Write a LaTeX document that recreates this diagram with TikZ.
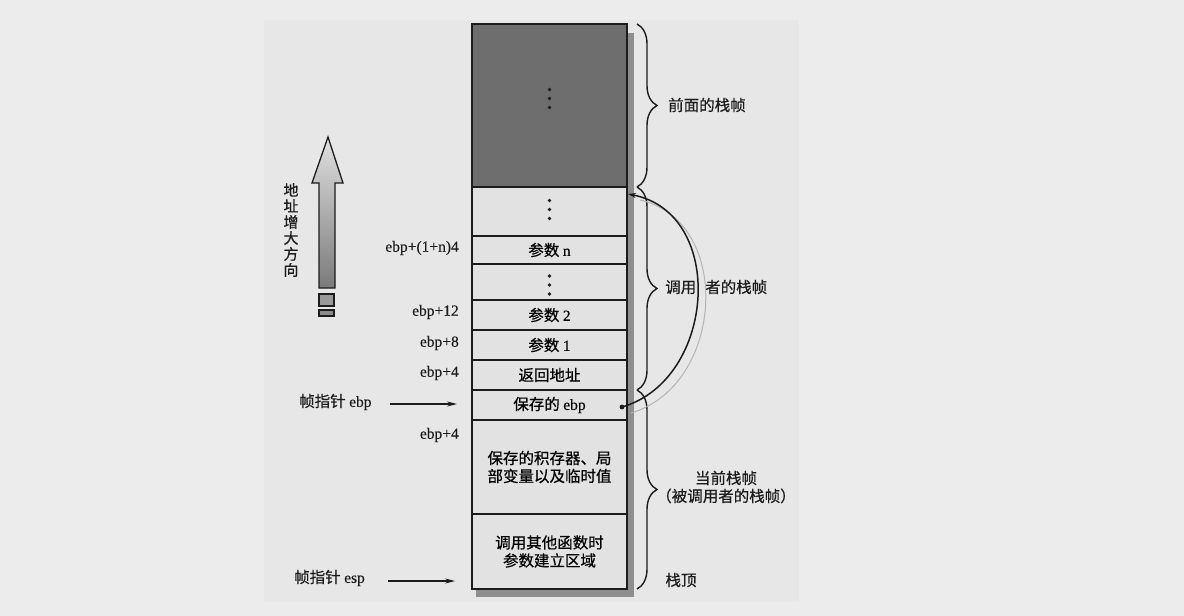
\documentclass[tikz,border=0pt]{standalone}
\usepackage{fontspec}
\setmainfont{Liberation Serif}[FakeBold=0.25]
\newfontfamily\cjk{Noto Sans CJK SC}[FakeBold=0.5]
\usetikzlibrary{decorations.pathreplacing,arrows.meta,calc}

\definecolor{pagebg}{HTML}{ECECEC}
\definecolor{paper}{HTML}{E7E7E7}
\definecolor{cellfill}{HTML}{E2E2E2}
\definecolor{oldframe}{HTML}{6E6E6E}
\definecolor{shadowgray}{HTML}{8E8E8E}
\definecolor{ink}{HTML}{1C1C1C}
\definecolor{ghost}{HTML}{B4B4B4}

\begin{document}
\begin{tikzpicture}[x=1pt,y=-1pt,
  cell/.style={draw=ink, line width=1.2pt, fill=cellfill, minimum width=155pt,
    inner sep=0pt, outer sep=0pt, anchor=north west, align=center,
    font=\cjk\fontsize{15.5}{18}\selectfont},
  zh/.style={inner sep=0pt, font=\cjk\fontsize{15.5}{18}\selectfont, text=ink},
  off/.style={inner sep=0pt, anchor=east, font=\fontsize{15.5}{17}\selectfont, text=ink},
  framebrace/.style={draw=ink, line width=1.4pt, decorate,
    decoration={brace, amplitude=20pt, aspect=0.5}},
  ptr/.style={draw=ink, line width=1.1pt, -{Stealth[length=10pt,width=5pt]}},
  link/.style={draw=ink, line width=1.5pt, -{Stealth[length=8pt,width=5pt]}},
  stackdot/.style={fill=ink},
]
\useasboundingbox (0,0) rectangle (1184,616);
\fill[pagebg] (0,0) rectangle (1184,616);
\fill[paper] (264,20) rectangle (799,602);

% drop shadow of the stack
\fill[shadowgray] (476,33) rectangle (634,597);

% stack cells, from high addresses (top) to the stack top (bottom)
\node[cell, fill=oldframe, minimum height=163pt] (prev) at (472,24) {};
\node[cell, minimum height=49pt] (dotsA) at (472,187) {};
\node[cell, minimum height=28pt] (argn) at (472,236) {参数 {\rmfamily n}};
\node[cell, minimum height=36pt] (dotsB) at (472,264) {};
\node[cell, minimum height=30pt] (arg2) at (472,300) {参数 {\rmfamily 2}};
\node[cell, minimum height=30pt] (arg1) at (472,330) {参数 {\rmfamily 1}};
\node[cell, minimum height=30pt] (ret) at (472,360) {返回地址};
\node[cell, minimum height=30pt] (savedebp) at (472,390) {保存的 {\rmfamily ebp}};
\node[cell, minimum height=94pt] (locals) at (472,420) {保存的积存器、局\\部变量以及临时值};
\node[cell, minimum height=75pt] (argbuild) at (472,514) {调用其他函数时\\参数建立区域};
\draw[ink, line width=1.8pt] (prev.north west) rectangle (argbuild.south east);

% vertical ellipses
\foreach \c/\dy in {prev/-7, dotsA/-2, dotsB/3}
  \foreach \d in {-9,0,9}
    \fill[stackdot] ($(\c.center)+(0,\dy+\d)$) circle (1.8pt);

% frame braces
\draw[framebrace] ([xshift=10pt]prev.north east) -- ([xshift=10pt]prev.south east);
\draw[framebrace] ([xshift=10pt]dotsA.north east) -- ([xshift=10pt]ret.south east);
\draw[framebrace] ([xshift=10pt]savedebp.north east) -- ([xshift=10pt]argbuild.south east);

\node[zh, anchor=west] (prevlbl) at (668,105) {前面的栈帧};
\node[zh, anchor=west] (callerlbl) at (665,287) {调用\hspace{9pt}者的栈帧};
\node[zh, align=center] (curlbl) at (726,487) {当前栈帧\\（被调用者的栈帧）};
\node[zh] (toplbl) at (681,580) {栈顶};

% saved ebp points back to the caller's frame
\coordinate (ebpdot) at ($(savedebp.east)+(-5,2)$);
\coordinate (callertop) at ($(dotsA.north east)+(1,7)$);
\draw[ghost, line width=1pt] ($(ebpdot)+(9,6)$) .. controls (724,386) and (734,221) .. ($(callertop)+(12,6)$);
\draw[link] (ebpdot) .. controls (716,380) and (727,213) .. (callertop);
\fill[ink] (ebpdot) circle (2.4pt);

% offsets relative to ebp
\node[off] (offn) at (459,248) {ebp+(1+n)4};
\node[off] (off12) at (459,312) {ebp+12};
\node[off] (off8) at (459,343) {ebp+8};
\node[off] (off4) at (459,373) {ebp+4};
\node[off] (offm4) at (459,435) {ebp+4};

% frame and stack pointers
\node[zh, anchor=west] (ebplbl) at (299,402) {帧指针 {\rmfamily ebp}};
\node[zh, anchor=west] (esplbl) at (294,578) {帧指针 {\rmfamily esp}};
\coordinate (ebpfrom) at (390,404);
\coordinate (ebpto) at (457,404);
\coordinate (espfrom) at (388,581);
\coordinate (espto) at (455,581);
\draw[ptr] (ebpfrom) -- (ebpto);
\draw[ptr] (espfrom) -- (espto);

% direction of increasing addresses
\draw[ink, line width=1.3pt, top color=white!88!black, bottom color=black!52]
  (328,137) -- (343,183) -- (335,183) -- (335,288) -- (319,288) -- (319,183)
  -- (312,183) -- cycle;
\draw[ink, line width=1.1pt, fill=black!40] (319,294) rectangle (334,306);
\draw[ink, line width=1.1pt, fill=black!45] (319,310) rectangle (334,316);
\node[zh, align=center, font=\cjk\fontsize{15}{16}\selectfont] (dirlbl) at (291,230)
  {地\\址\\增\\大\\方\\向};
\end{tikzpicture}
\end{document}
